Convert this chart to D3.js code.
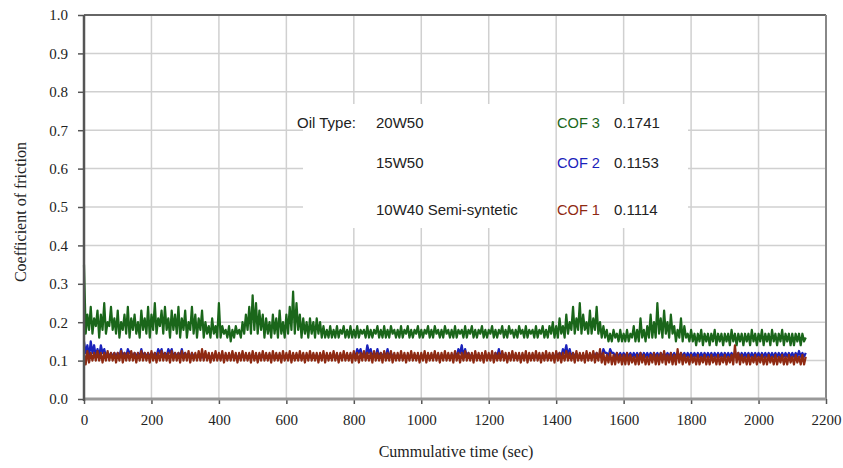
<!DOCTYPE html>
<html>
<head>
<meta charset="utf-8">
<script src="https://cdn.jsdelivr.net/npm/d3@7"></script>
<style>
  body { margin: 0; background: #fff; }
  svg { display: block; }
</style>
</head>
<body>
<svg id="chart" width="843" height="468"></svg>
<script>
const step = 5;

const cof3 = [
  0.35,0.17,0.22,0.18,0.24,0.17,0.21,0.19,0.23,0.16,0.22,0.18,0.25,0.17,0.20,0.19,0.24,0.18,0.21,0.17,
  0.23,0.16,0.20,0.18,0.22,0.17,0.24,0.16,0.21,0.18,0.22,0.17,0.20,0.16,0.23,0.18,0.21,0.17,0.24,0.16,
  0.22,0.18,0.25,0.17,0.21,0.19,0.23,0.17,0.24,0.18,0.21,0.16,0.23,0.18,0.22,0.17,0.24,0.16,0.21,0.18,
  0.23,0.16,0.20,0.18,0.24,0.17,0.22,0.16,0.21,0.18,0.23,0.16,0.20,0.17,0.19,0.16,0.21,0.17,0.19,0.16,
  0.25,0.16,0.19,0.17,0.18,0.16,0.19,0.15,0.18,0.16,0.19,0.17,0.18,0.16,0.20,0.17,0.22,0.18,0.24,0.17,
  0.27,0.18,0.25,0.17,0.23,0.18,0.22,0.16,0.21,0.17,0.20,0.16,0.22,0.17,0.21,0.16,0.23,0.17,0.20,0.16,
  0.22,0.17,0.24,0.18,0.28,0.17,0.25,0.18,0.22,0.16,0.21,0.17,0.20,0.16,0.21,0.17,0.20,0.16,0.21,0.17,
  0.20,0.16,0.19,0.16,0.18,0.16,0.19,0.16,0.18,0.16,0.19,0.16,0.18,0.17,0.19,0.16,0.18,0.16,0.19,0.16,
  0.18,0.16,0.19,0.16,0.18,0.17,0.18,0.16,0.19,0.16,0.18,0.16,0.18,0.17,0.19,0.16,0.18,0.16,0.19,0.16,
  0.18,0.16,0.19,0.17,0.18,0.16,0.18,0.16,0.19,0.16,0.18,0.17,0.19,0.16,0.18,0.16,0.18,0.17,0.19,0.16,
  0.18,0.16,0.18,0.17,0.19,0.16,0.18,0.16,0.19,0.17,0.18,0.16,0.18,0.16,0.19,0.17,0.18,0.16,0.18,0.16,
  0.19,0.16,0.18,0.17,0.18,0.16,0.19,0.16,0.18,0.17,0.19,0.16,0.18,0.16,0.18,0.17,0.19,0.16,0.18,0.16,
  0.18,0.17,0.19,0.16,0.18,0.16,0.18,0.17,0.19,0.16,0.18,0.16,0.19,0.17,0.18,0.16,0.18,0.16,0.19,0.17,
  0.18,0.16,0.19,0.16,0.18,0.17,0.18,0.16,0.19,0.16,0.18,0.17,0.19,0.16,0.18,0.16,0.19,0.17,0.20,0.16,
  0.19,0.16,0.21,0.17,0.19,0.16,0.22,0.17,0.20,0.18,0.24,0.17,0.21,0.18,0.25,0.17,0.22,0.18,0.20,0.17,
  0.23,0.17,0.21,0.18,0.24,0.17,0.20,0.16,0.19,0.16,0.18,0.15,0.17,0.15,0.18,0.16,0.17,0.15,0.18,0.15,
  0.17,0.15,0.18,0.15,0.17,0.16,0.19,0.15,0.18,0.15,0.21,0.16,0.18,0.15,0.19,0.16,0.22,0.16,0.20,0.16,
  0.25,0.17,0.21,0.16,0.23,0.17,0.20,0.16,0.22,0.17,0.19,0.15,0.18,0.16,0.21,0.15,0.19,0.16,0.17,0.15,
  0.18,0.15,0.17,0.14,0.17,0.15,0.18,0.14,0.17,0.15,0.17,0.14,0.17,0.15,0.18,0.14,0.17,0.15,0.17,0.14,
  0.17,0.15,0.17,0.14,0.18,0.15,0.17,0.14,0.17,0.15,0.17,0.14,0.17,0.15,0.17,0.14,0.18,0.15,0.17,0.14,
  0.17,0.15,0.18,0.14,0.17,0.15,0.17,0.14,0.18,0.15,0.17,0.14,0.17,0.15,0.18,0.14,0.17,0.15,0.17,0.14,
  0.17,0.14,0.17,0.15,0.17,0.14,0.17,0.15,0.16
];

const cof2 = [
  0.15,0.12,0.14,0.11,0.15,0.12,0.14,0.11,0.13,0.11,0.14,0.12,0.13,0.11,0.12,0.11,0.12,0.11,0.12,0.11,
  0.12,0.11,0.13,0.11,0.12,0.11,0.13,0.12,0.12,0.11,0.12,0.11,0.12,0.11,0.13,0.11,0.12,0.11,0.12,0.11,
  0.12,0.11,0.12,0.11,0.13,0.12,0.13,0.11,0.12,0.11,0.13,0.12,0.13,0.11,0.12,0.11,0.12,0.11,0.13,0.11,
  0.12,0.11,0.115,0.105,0.12,0.11,0.115,0.105,0.115,0.105,0.115,0.105,0.115,0.105,0.115,0.105,0.115,0.105,0.115,0.105,
  0.115,0.105,0.115,0.105,0.115,0.105,0.115,0.105,0.115,0.105,0.115,0.105,0.115,0.105,0.115,0.105,0.115,0.105,0.115,0.105,
  0.115,0.105,0.115,0.105,0.115,0.105,0.115,0.105,0.115,0.105,0.115,0.105,0.115,0.105,0.115,0.105,0.115,0.105,0.115,0.105,
  0.115,0.105,0.115,0.105,0.115,0.105,0.115,0.105,0.115,0.105,0.115,0.105,0.115,0.105,0.115,0.105,0.115,0.105,0.115,0.105,
  0.115,0.105,0.115,0.105,0.115,0.105,0.115,0.105,0.115,0.105,0.115,0.105,0.115,0.105,0.115,0.105,0.115,0.105,0.115,0.105,
  0.12,0.11,0.13,0.12,0.13,0.11,0.12,0.11,0.14,0.12,0.13,0.11,0.12,0.11,0.13,0.11,0.12,0.11,0.12,0.11,
  0.13,0.11,0.12,0.11,0.115,0.105,0.115,0.105,0.115,0.105,0.115,0.105,0.115,0.105,0.115,0.105,0.115,0.105,0.115,0.105,
  0.115,0.105,0.115,0.105,0.115,0.105,0.115,0.105,0.115,0.105,0.115,0.105,0.115,0.105,0.115,0.105,0.115,0.105,0.115,0.105,
  0.12,0.11,0.13,0.12,0.14,0.11,0.13,0.11,0.12,0.11,0.115,0.105,0.115,0.105,0.115,0.105,0.115,0.105,0.115,0.105,
  0.115,0.105,0.115,0.105,0.12,0.11,0.13,0.11,0.12,0.11,0.115,0.105,0.115,0.105,0.115,0.105,0.115,0.105,0.115,0.105,
  0.115,0.105,0.115,0.105,0.115,0.105,0.115,0.105,0.115,0.105,0.115,0.105,0.115,0.105,0.115,0.105,0.115,0.105,0.115,0.105,
  0.12,0.11,0.12,0.11,0.13,0.12,0.14,0.11,0.13,0.11,0.12,0.11,0.115,0.105,0.115,0.105,0.115,0.105,0.115,0.105,
  0.115,0.105,0.12,0.11,0.12,0.11,0.12,0.11,0.13,0.12,0.12,0.11,0.13,0.12,0.12,0.11,0.12,0.11,0.12,0.11,
  0.12,0.11,0.12,0.11,0.12,0.11,0.12,0.11,0.12,0.11,0.12,0.11,0.12,0.11,0.12,0.11,0.12,0.11,0.12,0.11,
  0.12,0.11,0.12,0.11,0.12,0.11,0.12,0.11,0.12,0.11,0.12,0.11,0.12,0.11,0.12,0.11,0.12,0.11,0.12,0.11,
  0.12,0.11,0.12,0.11,0.12,0.11,0.12,0.11,0.12,0.11,0.12,0.11,0.12,0.11,0.12,0.11,0.12,0.11,0.12,0.11,
  0.12,0.11,0.12,0.11,0.12,0.11,0.12,0.11,0.12,0.11,0.12,0.11,0.12,0.11,0.12,0.11,0.12,0.11,0.12,0.11,
  0.12,0.11,0.12,0.11,0.12,0.11,0.12,0.11,0.12,0.11,0.12,0.11,0.12,0.11,0.12,0.11,0.12,0.11,0.12,0.11,
  0.12,0.11,0.12,0.11,0.125,0.11,0.12,0.11,0.12
];

const cof1 = [
  0.12,0.09,0.125,0.095,0.12,0.10,0.12,0.10,0.125,0.10,0.12,0.095,0.12,0.10,0.125,0.10,0.12,0.10,0.12,0.095,
  0.12,0.10,0.125,0.095,0.12,0.10,0.12,0.10,0.125,0.10,0.12,0.095,0.12,0.10,0.125,0.10,0.12,0.10,0.12,0.095,
  0.125,0.10,0.12,0.095,0.12,0.10,0.125,0.10,0.12,0.10,0.12,0.095,0.125,0.10,0.12,0.10,0.12,0.095,0.125,0.10,
  0.12,0.10,0.125,0.095,0.12,0.10,0.12,0.10,0.125,0.10,0.13,0.10,0.125,0.10,0.12,0.095,0.12,0.10,0.125,0.10,
  0.12,0.10,0.125,0.095,0.12,0.10,0.12,0.10,0.125,0.10,0.12,0.095,0.12,0.10,0.125,0.10,0.12,0.10,0.12,0.095,
  0.125,0.10,0.12,0.095,0.12,0.10,0.125,0.10,0.12,0.10,0.12,0.095,0.125,0.10,0.12,0.10,0.12,0.095,0.125,0.10,
  0.12,0.10,0.125,0.095,0.12,0.10,0.12,0.10,0.125,0.10,0.12,0.095,0.12,0.10,0.125,0.10,0.12,0.10,0.12,0.095,
  0.12,0.10,0.125,0.095,0.12,0.10,0.12,0.10,0.125,0.10,0.12,0.095,0.12,0.10,0.125,0.10,0.12,0.10,0.12,0.095,
  0.125,0.10,0.12,0.095,0.12,0.10,0.125,0.10,0.12,0.10,0.12,0.095,0.125,0.10,0.12,0.10,0.12,0.095,0.125,0.10,
  0.12,0.10,0.125,0.095,0.12,0.10,0.12,0.10,0.125,0.10,0.12,0.095,0.12,0.10,0.125,0.10,0.12,0.10,0.12,0.095,
  0.12,0.10,0.125,0.095,0.12,0.10,0.12,0.10,0.125,0.10,0.12,0.095,0.12,0.10,0.125,0.10,0.12,0.10,0.12,0.095,
  0.125,0.10,0.12,0.095,0.12,0.10,0.125,0.10,0.12,0.10,0.12,0.095,0.125,0.10,0.12,0.10,0.12,0.095,0.125,0.10,
  0.12,0.10,0.125,0.095,0.12,0.10,0.12,0.10,0.125,0.10,0.12,0.095,0.12,0.10,0.125,0.10,0.12,0.10,0.12,0.095,
  0.12,0.10,0.125,0.095,0.12,0.10,0.12,0.10,0.125,0.10,0.12,0.095,0.12,0.10,0.125,0.10,0.12,0.10,0.12,0.095,
  0.125,0.10,0.12,0.095,0.12,0.10,0.125,0.10,0.12,0.10,0.12,0.095,0.125,0.10,0.12,0.10,0.12,0.095,0.125,0.10,
  0.12,0.10,0.125,0.095,0.12,0.10,0.13,0.095,0.12,0.09,0.115,0.095,0.12,0.09,0.115,0.09,0.12,0.095,0.115,0.09,
  0.115,0.09,0.12,0.09,0.115,0.095,0.11,0.09,0.115,0.09,0.12,0.095,0.115,0.09,0.11,0.09,0.115,0.095,0.12,0.09,
  0.115,0.09,0.12,0.095,0.125,0.09,0.115,0.095,0.12,0.09,0.115,0.09,0.13,0.095,0.12,0.09,0.115,0.095,0.11,0.09,
  0.115,0.095,0.11,0.09,0.115,0.09,0.11,0.095,0.115,0.09,0.11,0.09,0.115,0.095,0.11,0.09,0.115,0.09,0.11,0.095,
  0.115,0.09,0.11,0.095,0.115,0.09,0.14,0.095,0.12,0.09,0.115,0.095,0.11,0.09,0.115,0.09,0.11,0.095,0.115,0.09,
  0.11,0.095,0.115,0.09,0.11,0.09,0.115,0.095,0.11,0.09,0.115,0.09,0.11,0.095,0.115,0.09,0.11,0.09,0.115,0.095,
  0.11,0.09,0.115,0.095,0.11,0.09,0.115,0.09,0.11
];

const yTicks = [0, 0.1, 0.2, 0.3, 0.4, 0.5, 0.6, 0.7, 0.8, 0.9, 1.0];
const xTicks = [0, 200, 400, 600, 800, 1000, 1200, 1400, 1600, 1800, 2000, 2200];

const oilTypes = ["20W50", "15W50", "10W40 Semi-syntetic"];
const cofNames = ["COF 3", "COF 2", "COF 1"];
const cofMeans = ["0.1741", "0.1153", "0.1114"];
const cofColors = ["#1a661a", "#1a22bb", "#8f2a12"];

const svg = d3.select("#chart");
const m = { left: 84, right: 826, top: 15, bottom: 399 };

const x = d3.scaleLinear().domain([0, 2200]).range([m.left, m.right]);
const y = d3.scaleLinear().domain([0, 1]).range([m.bottom, m.top]);

// grid
const grid = svg.append("g").attr("stroke", "#d0d0d0").attr("stroke-width", 1.5);
grid.selectAll(".gy").data(yTicks.slice(1)).enter().append("line")
    .attr("x1", m.left).attr("x2", m.right)
    .attr("y1", d => y(d)).attr("y2", d => y(d));
grid.selectAll(".gx").data(xTicks.slice(1)).enter().append("line")
    .attr("x1", d => x(d)).attr("x2", d => x(d))
    .attr("y1", m.top).attr("y2", m.bottom);

// white box behind the legend text (1400 grid line shows through)
svg.append("rect").attr("x", 303).attr("y", 104)
    .attr("width", 385).attr("height", 124).attr("fill", "#fff");
svg.append("line").attr("stroke", "#d0d0d0").attr("stroke-width", 1.5)
    .attr("x1", x(1400)).attr("x2", x(1400)).attr("y1", 104).attr("y2", 228);

// traces, blue under red
const line = d3.line().x((d, i) => x(i * step)).y(d => y(d));
const traces = [
  { data: cof3, color: cofColors[0] },
  { data: cof2, color: cofColors[1] },
  { data: cof1, color: cofColors[2] }
];
svg.append("g").selectAll("path").data(traces).enter().append("path")
    .attr("d", d => line(d.data))
    .attr("fill", "none")
    .attr("stroke", d => d.color)
    .attr("stroke-width", 2.2)
    .attr("stroke-linejoin", "round");

// axes
const yAxis = d3.axisLeft(y).tickValues(yTicks).tickFormat(d3.format(".1f")).tickSize(6).tickPadding(10);
const xAxis = d3.axisBottom(x).tickValues(xTicks).tickFormat(d3.format("d")).tickSize(5).tickPadding(10);

const gy = svg.append("g").attr("transform", `translate(${m.left},0)`).call(yAxis);
const gx = svg.append("g").attr("transform", `translate(0,${m.bottom})`).call(xAxis);
[gy, gx].forEach(g => {
  g.select(".domain").remove();
  g.selectAll("line").attr("stroke", "#555").attr("stroke-width", 1.5);
  g.selectAll("text").attr("font-family", "'Liberation Serif', serif")
    .attr("font-size", 15).attr("fill", "#222");
});

// frame
svg.append("line").attr("x1", m.left).attr("x2", m.right).attr("y1", m.top).attr("y2", m.top)
    .attr("stroke", "#666").attr("stroke-width", 2);
svg.append("line").attr("x1", m.right).attr("x2", m.right).attr("y1", m.top).attr("y2", m.bottom)
    .attr("stroke", "#888").attr("stroke-width", 2);
svg.append("line").attr("x1", m.left).attr("x2", m.right).attr("y1", m.bottom).attr("y2", m.bottom)
    .attr("stroke", "#999").attr("stroke-width", 3);
svg.append("line").attr("x1", m.left).attr("x2", m.left).attr("y1", m.top).attr("y2", m.bottom + 2)
    .attr("stroke", "#555").attr("stroke-width", 2.5);

// axis titles
svg.append("text").attr("x", 456).attr("y", 457).attr("text-anchor", "middle")
    .attr("font-family", "'Liberation Serif', serif").attr("font-size", 16).attr("fill", "#222")
    .text("Cummulative time (sec)");
svg.append("text").attr("transform", "translate(26,212) rotate(-90)").attr("text-anchor", "middle")
    .attr("font-family", "'Liberation Serif', serif").attr("font-size", 16).attr("fill", "#222")
    .text("Coefficient of friction");

// legend
const rowsY = [128, 168, 215];
const lg = svg.append("g").attr("font-family", "'Liberation Sans', Arial, sans-serif").attr("font-size", 15).attr("fill", "#222");
lg.append("text").attr("x", 297).attr("y", rowsY[0]).text("Oil Type:");
lg.selectAll(".oil").data(oilTypes).enter().append("text")
    .attr("x", 376).attr("y", (d, i) => rowsY[i]).text(d => d);
lg.selectAll(".cof").data(cofNames).enter().append("text")
    .attr("x", 557).attr("y", (d, i) => rowsY[i])
    .attr("font-size", 14).attr("textLength", 43).attr("lengthAdjust", "spacingAndGlyphs")
    .attr("fill", (d, i) => cofColors[i]).text(d => d);
lg.selectAll(".mean").data(cofMeans).enter().append("text")
    .attr("x", 614).attr("y", (d, i) => rowsY[i]).text(d => d);
</script>
</body>
</html>
